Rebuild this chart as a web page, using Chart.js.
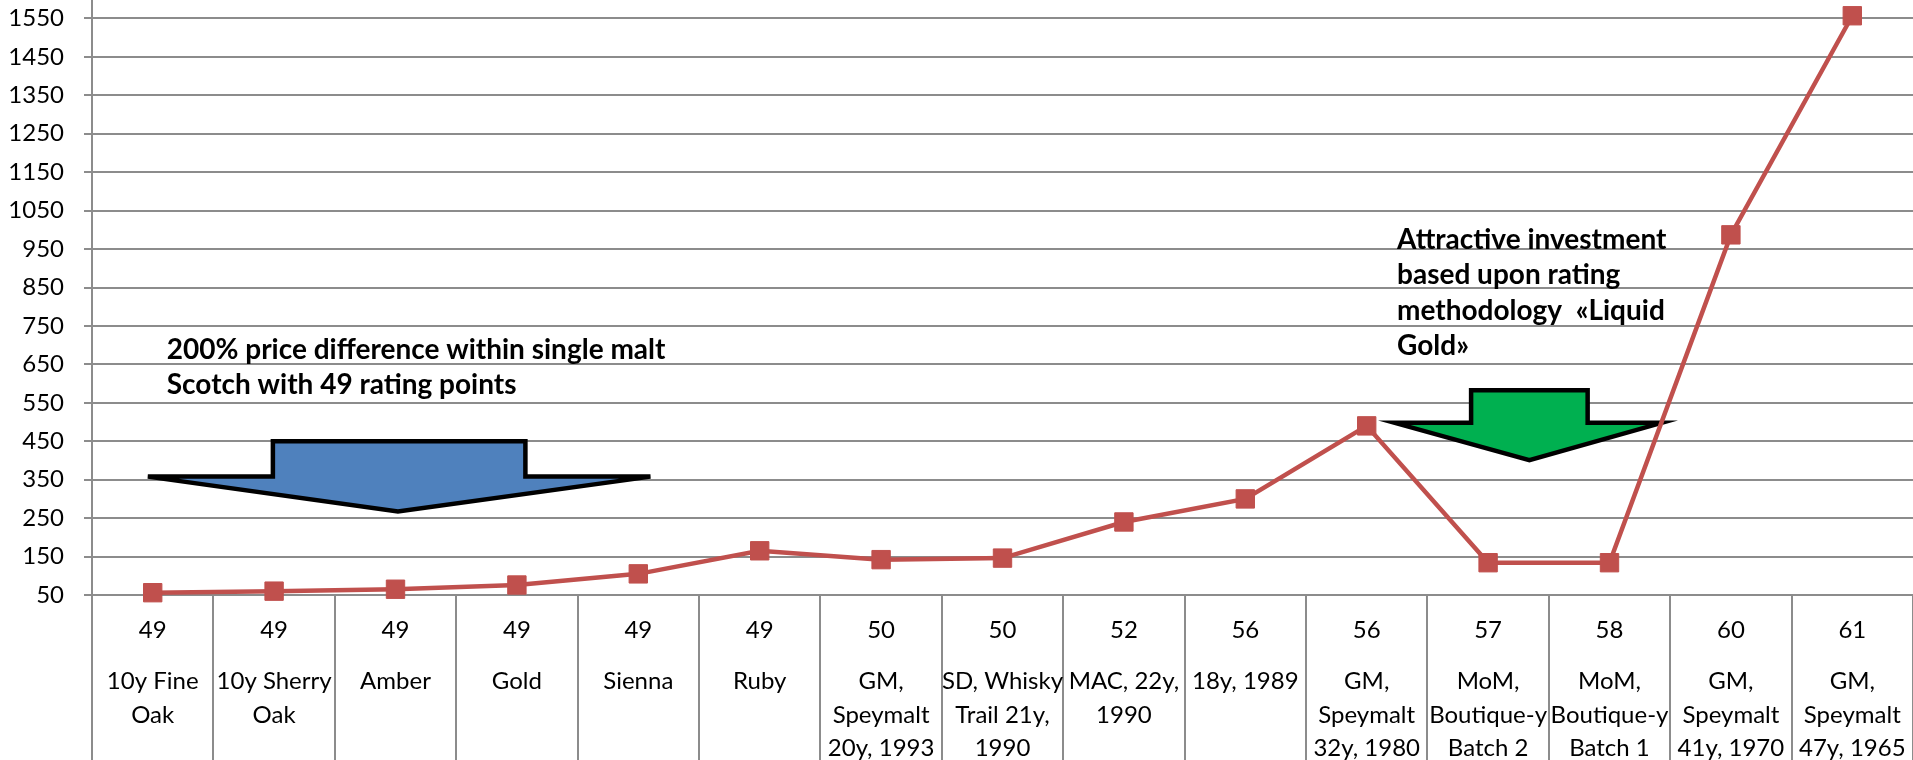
<!DOCTYPE html>
<html>
<head>
<meta charset="utf-8">
<script src="https://cdn.jsdelivr.net/npm/chart.js@4.4.0/dist/chart.umd.min.js"></script>
<style>
  html, body { margin: 0; padding: 0; background: #fff; }
  #wrap { width: 1913px; height: 760px; }
</style>
</head>
<body>
<div id="wrap"><canvas id="line-chart"></canvas></div>
<script>
// rating points (first row under the axis)
var ratings = ["49", "49", "49", "49", "49", "49", "50", "50", "52", "56", "56", "57", "58", "60", "61"];
// bottlings (second row)
var names = [
  ["10y Fine", "Oak"], ["10y Sherry", "Oak"], ["Amber"], ["Gold"], ["Sienna"], ["Ruby"],
  ["GM,", "Speymalt", "20y, 1993"], ["SD, Whisky", "Trail 21y,", "1990"], ["MAC, 22y,", "1990"],
  ["18y, 1989"], ["GM,", "Speymalt", "32y, 1980"], ["MoM,", "Boutique-y", "Batch 2"],
  ["MoM,", "Boutique-y", "Batch 1"], ["GM,", "Speymalt", "41y, 1970"], ["GM,", "Speymalt", "47y, 1965"]
];
// price
var prices = [56, 60, 65, 76, 105, 165, 142, 146, 240, 300, 490, 134, 134, 987, 1557];
var yTicks = [50, 150, 250, 350, 450, 550, 650, 750, 850, 950, 1050, 1150, 1250, 1350, 1450, 1550];

var gray = "#8c8c8c";

// arrow outlines in chart coordinates: [category index, value]
var blueArrow = [[0.99, 450], [3.07, 450], [3.07, 358], [4.1, 358], [2.02, 267], [-0.04, 358], [0.99, 358]];
var greenArrow = [[10.86, 583], [11.82, 583], [11.82, 498], [12.43, 498], [11.34, 401], [10.23, 498], [10.86, 498]];

var notes = [
  { at: [0.116, 665], lines: ["200% price difference within single malt", "Scotch with 49 rating points"] },
  { at: [10.25, 950], lines: ["Attractive investment", "based upon rating", "methodology  \u00abLiquid", "Gold\u00bb"] }
];

Chart.defaults.font.family = "Lato";
Chart.defaults.color = "#000";

var notesPlugin = {
  id: "notes",
  beforeDatasetsDraw: function (chart) {
    var ctx = chart.ctx, x = chart.scales.x, y = chart.scales.y;
    [[blueArrow, "#4F81BD"], [greenArrow, "#00B050"]].forEach(function (a) {
      ctx.save();
      ctx.beginPath();
      a[0].forEach(function (p, i) {
        var px = x.getPixelForValue(p[0]), py = y.getPixelForValue(p[1]);
        if (i === 0) ctx.moveTo(px, py); else ctx.lineTo(px, py);
      });
      ctx.closePath();
      ctx.fillStyle = a[1];
      ctx.fill();
      ctx.lineWidth = 4.5;
      ctx.strokeStyle = "#000";
      ctx.stroke();
      ctx.restore();
    });
  },
  afterDatasetsDraw: function (chart) {
    var ctx = chart.ctx, x = chart.scales.x, y = chart.scales.y;
    ctx.save();
    ctx.font = "bold 28px Lato";
    ctx.fillStyle = "#000";
    ctx.textBaseline = "alphabetic";
    notes.forEach(function (n) {
      var px = x.getPixelForValue(n.at[0]), py = y.getPixelForValue(n.at[1]);
      n.lines.forEach(function (t, i) { ctx.fillText(t, px, py + i * 35.3); });
    });
    ctx.restore();
  }
};

new Chart(document.getElementById("line-chart"), {
  type: "line",
  data: {
    labels: ratings,
    datasets: [{
      label: "Price",
      data: prices,
      borderColor: "#C0504D",
      backgroundColor: "#C0504D",
      borderWidth: 4.5,
      tension: 0,
      pointStyle: "rect",
      pointRadius: 13,
      pointBorderWidth: 1,
      pointBorderColor: "#C0504D",
      pointBackgroundColor: "#C0504D",
      clip: false
    }]
  },
  options: {
    responsive: true,
    maintainAspectRatio: false,
    animation: false,
    layout: { padding: 0, autoPadding: false },
    plugins: { legend: { display: false }, tooltip: { enabled: false } },
    scales: {
      y: {
        min: 50,
        max: 1598,
        grid: { color: gray, lineWidth: 2, tickLength: 8 },
        border: { color: gray, width: 2 },
        ticks: { font: { size: 24 }, padding: 20, callback: function (v) { return String(v); } },
        afterBuildTicks: function (s) { s.ticks = yTicks.map(function (v) { return { value: v }; }); },
        afterFit: function (s) { s.width = 92; s.paddingTop = 0; s.paddingBottom = 0; }
      },
      x: {
        type: "category",
        labels: ratings,
        position: "bottom",
        offset: true,
        grid: { offset: true, drawOnChartArea: false, color: gray, lineWidth: 2, tickLength: 165 },
        border: { color: gray, width: 2 },
        ticks: { font: { size: 24 }, padding: -144, autoSkip: false, maxRotation: 0, minRotation: 0 },
        afterFit: function (s) { s.height = 165; s.paddingLeft = 0; s.paddingRight = 0; }
      },
      x2: {
        type: "category",
        labels: names,
        position: { y: 50 },
        offset: true,
        grid: { display: false, drawTicks: false },
        border: { display: false },
        ticks: { font: { size: 24, lineHeight: 1.3875 }, padding: 70, autoSkip: false, maxRotation: 0, minRotation: 0 },
        afterFit: function (s) { s.height = 0; s.paddingLeft = 0; s.paddingRight = 0; }
      }
    }
  },
  plugins: [notesPlugin]
});
</script>
</body>
</html>
